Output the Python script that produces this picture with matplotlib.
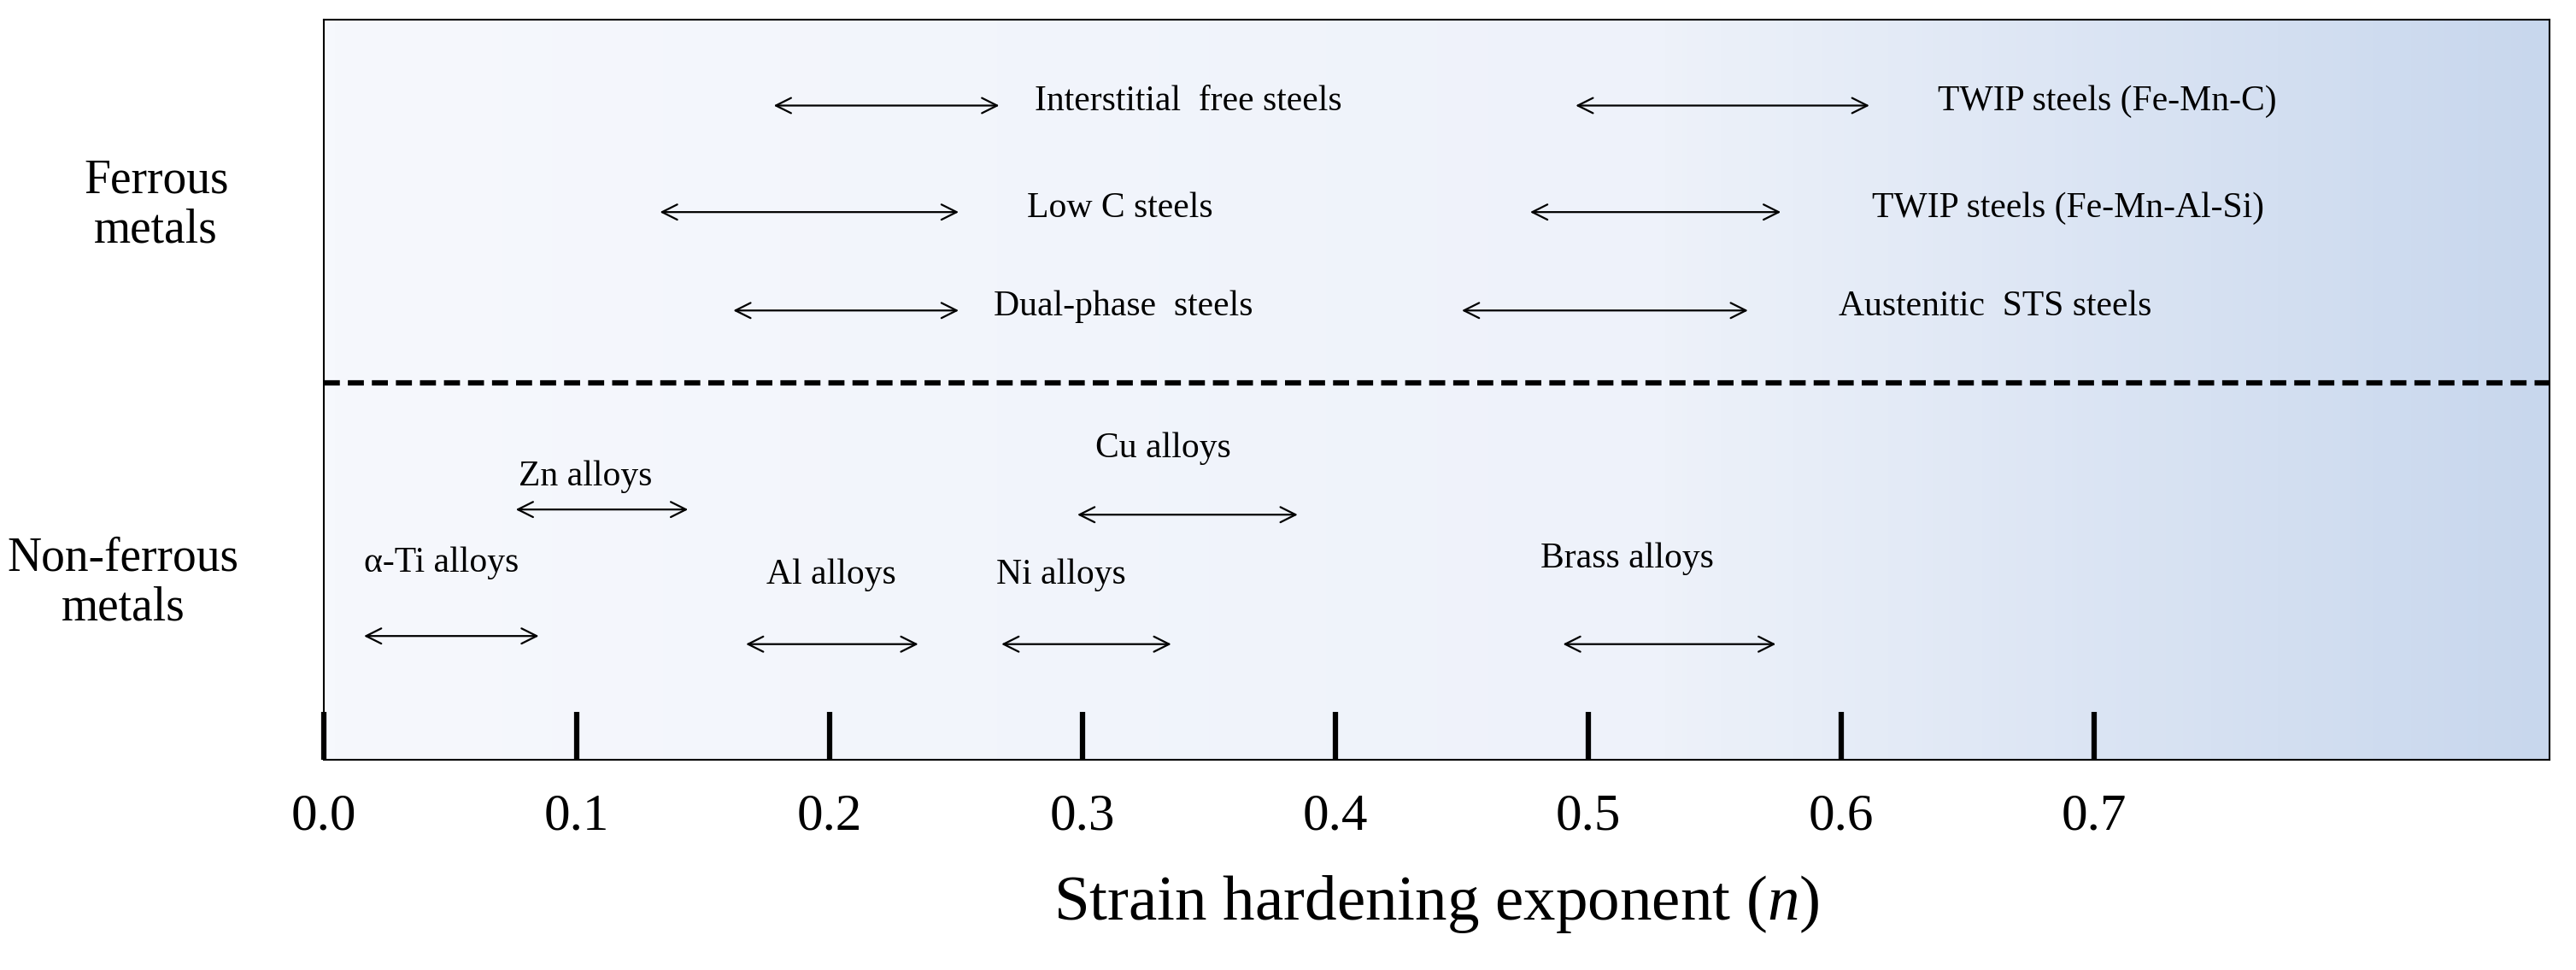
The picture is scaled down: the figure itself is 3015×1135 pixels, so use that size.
import matplotlib.pyplot as plt
import numpy as np
from matplotlib.colors import LinearSegmentedColormap

plt.rcParams['font.family'] = ['Liberation Serif', 'DejaVu Serif']
plt.rcParams['mathtext.fontset'] = 'custom'
plt.rcParams['mathtext.it'] = 'Liberation Serif:italic'
plt.rcParams['mathtext.rm'] = 'Liberation Serif'

# ferrous ranges
ferrous_labels = ['Interstitial  free steels', 'Low C steels', 'Dual-phase  steels',
                  'TWIP steels (Fe-Mn-C)', 'TWIP steels (Fe-Mn-Al-Si)', 'Austenitic  STS steels']
ferrous_lo = [0.177, 0.132, 0.161, 0.494, 0.476, 0.449]
ferrous_hi = [0.268, 0.252, 0.252, 0.612, 0.577, 0.564]
ferrous_tx = [0.281, 0.278, 0.265, 0.638, 0.612, 0.599]
ferrous_y = [0.884, 0.740, 0.607, 0.884, 0.740, 0.607]

nonfer_labels = ['Zn alloys', 'Cu alloys', '\u03b1-Ti alloys', 'Al alloys', 'Ni alloys', 'Brass alloys']
nonfer_lo = [0.075, 0.297, 0.015, 0.166, 0.267, 0.489]
nonfer_hi = [0.145, 0.386, 0.086, 0.236, 0.336, 0.575]
nonfer_tx = [0.077, 0.305, 0.016, 0.175, 0.266, 0.481]
nonfer_ty = [0.360, 0.398, 0.244, 0.227, 0.227, 0.249]
nonfer_ay = [0.338, 0.331, 0.167, 0.156, 0.156, 0.156]

ticks = [0.0, 0.1, 0.2, 0.3, 0.4, 0.5, 0.6, 0.7]
xmax = 0.88

fig = plt.figure(figsize=(30.15, 11.35), dpi=100)
ax = fig.add_axes([197/1568, 1 - 462/590, (1552-197)/1568, 450/590])

cmap = LinearSegmentedColormap.from_list('bg', [(0, '#f6f8fd'), (0.6, '#eef2fa'), (0.85, '#d6e1f2'), (1, '#c8d7ed')])
grad = np.linspace(0, 1, 400).reshape(1, -1)
ax.imshow(grad, extent=[0, xmax, 0, 1], aspect='auto', cmap=cmap, zorder=0)
ax.set_xlim(0, xmax)
ax.set_ylim(0, 1)

arrow = dict(arrowstyle='<->', color='black', lw=1.6, mutation_scale=32)
for lab, lo, hi, tx, y in zip(ferrous_labels, ferrous_lo, ferrous_hi, ferrous_tx, ferrous_y):
    ax.annotate('', xy=(lo, y), xytext=(hi, y), arrowprops=arrow)
    ax.text(tx, y + 0.005, lab, fontsize=30, va='center', ha='left')
for lab, lo, hi, tx, ty, ay in zip(nonfer_labels, nonfer_lo, nonfer_hi, nonfer_tx, nonfer_ty, nonfer_ay):
    ax.annotate('', xy=(lo, ay), xytext=(hi, ay), arrowprops=arrow)
    ax.text(tx, ty, lab, fontsize=30, va='bottom', ha='left')

ax.axhline(1 - (233-12)/450, color='black', lw=4.5, ls=(0, (3, 1.5)))

ax.set_xticks(ticks)
ax.set_xticklabels(['%.1f' % t for t in ticks], fontsize=44)
ax.set_yticks([])
ax.tick_params(axis='x', direction='in', length=40, width=4.5, pad=28)
for s in ax.spines.values():
    s.set_linewidth(1.5)
ax.set_xlabel('Strain hardening exponent ($\\mathit{n}$)', fontsize=54, labelpad=28)

fig.text(95/1568, 1 - 125/590, 'Ferrous\nmetals', fontsize=40, ha='center', va='center', linespacing=1.15)
fig.text(75/1568, 1 - 355/590, 'Non-ferrous\nmetals', fontsize=40, ha='center', va='center', linespacing=1.15)

fig.savefig('out.png', dpi=100)
